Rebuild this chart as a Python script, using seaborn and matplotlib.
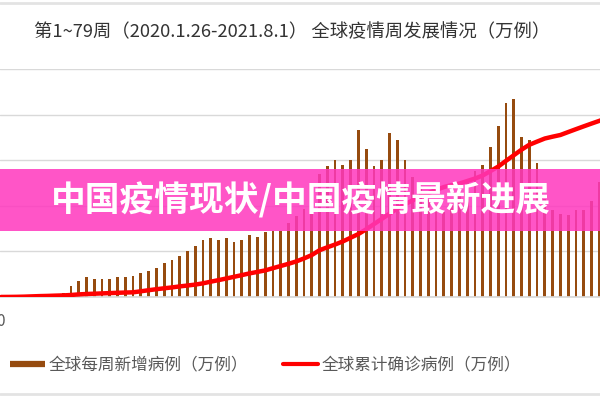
import numpy as np
import pandas as pd
import matplotlib
matplotlib.use('Agg')
import matplotlib.pyplot as plt
from matplotlib.patches import Rectangle
from matplotlib.lines import Line2D
import seaborn as sns

# Weekly data (万例), weeks 1..79
weeks = list(range(1, 80))
new_cases = [1, 1, 1, 1, 1, 1, 2, 4, 10, 30,
             43, 52, 47, 47, 47, 52, 52, 56, 64, 68,
             77, 89, 97, 109, 121, 134, 150, 154, 150, 154,
             145, 150, 163, 159, 171, 174, 174, 196, 213, 231,
             275, 324, 345, 360, 348, 360, 439, 389, 345, 360,
             431, 413, 360, 315, 290, 255, 232, 225, 245, 270,
             300, 331, 347, 394, 451, 510, 521, 422, 413, 352,
             257, 229, 218, 216, 229, 229, 253, 303, 330]
total_cases = [5, 10, 20, 40, 70, 100, 120, 150, 175, 220,
               285, 330, 360, 395, 430, 460, 490, 515, 625, 745,
               855, 955, 1050, 1160, 1260, 1360, 1500, 1680, 1850, 2030,
               2215, 2400, 2590, 2750, 2915, 3160, 3400, 3640, 3900, 4230,
               4600, 5130, 5450, 5755, 6095, 6500, 6905, 7420, 7990, 8560,
               9130, 9690, 10170, 10600, 11015, 11380, 11740, 12055, 12275, 12440,
               12715, 12990, 13320, 13810, 14300, 14930, 15540, 16155, 16690, 17040,
               17380, 17580, 17765, 18085, 18400, 18710, 19015, 19310, 19620]

title = '第1~79周（2020.1.26-2021.8.1） 全球疫情周发展情况（万例）'
banner = '中国疫情现状/中国疫情最新进展'
label_new = '全球每周新增病例（万例）'
label_total = '全球累计确诊病例（万例）'

df = pd.DataFrame({'week': weeks, 'new': new_cases, 'total': total_cases})

sns.set_theme(style='white')
plt.rcParams['font.family'] = ['Noto Sans CJK SC', 'DejaVu Sans']

brown = '#964B0F'
grid_c = '#d9d9d9'

fig = plt.figure(figsize=(6, 4), dpi=100)
ax = fig.add_axes([0, 0.2575, 1, 0.57])

sns.barplot(data=df, x='week', y='new', native_scale=True, width=0.36,
            color=brown, saturation=1, linewidth=0, ax=ax)
ax.set_ylim(0, 600)
ax.set_yticks(range(0, 601, 120))
ax.yaxis.grid(True, color=grid_c, lw=1)
ax.set_axisbelow(True)

ax2 = ax.twinx()
sns.lineplot(data=df, x='week', y='total', color='#ff0000', lw=3.2, ax=ax2)
ax2.set_ylim(0, 25000)

for a in (ax, ax2):
    a.set_xlim(0.87, 78.1)
    a.set_xlabel('')
    a.set_ylabel('')
    a.tick_params(left=False, right=False, bottom=False,
                  labelleft=False, labelright=False, labelbottom=False)
    for s in a.spines.values():
        s.set_visible(False)
ax.spines['bottom'].set_visible(True)
ax.spines['bottom'].set_color(grid_c)

# title and partial axis label
fig.text(0.4875, 1 - 32 / 400, title, ha='center', va='center',
         fontsize=13.2, color='#333333')
fig.text(0.008, 1 - 322 / 400, '0', ha='right', va='center',
         fontsize=11, color='#595959')

# legend
handles = [Line2D([], [], color=brown, lw=4.5, solid_capstyle='butt'),
           Line2D([], [], color='#ff0000', lw=3)]
fig.legend(handles, [label_new, label_total], loc='center left',
           bbox_to_anchor=(10 / 600, 1 - 365 / 400), ncol=2, frameon=False,
           fontsize=12, handlelength=2.1, handletextpad=0.2,
           columnspacing=2.1, labelcolor='#595959', borderaxespad=0, borderpad=0)

# screenshot borders
fig.add_artist(Line2D([0, 1], [1 - 3 / 400] * 2, color='#e3e3e3', lw=2))
fig.add_artist(Line2D([0, 1], [1 - 394 / 400] * 2, color='#e3e3e3', lw=2))

# pink banner over the chart
fig.add_artist(Rectangle((0, 1 - 231 / 400), 1, 62 / 400, transform=fig.transFigure,
                         facecolor='#ff37be', alpha=0.85, lw=0, zorder=5))
fig.text(0.502, 1 - 200 / 400, banner, ha='center', va='center',
         fontsize=25, fontweight='heavy', color='white', zorder=6)

fig.savefig('out.png', dpi=100)
